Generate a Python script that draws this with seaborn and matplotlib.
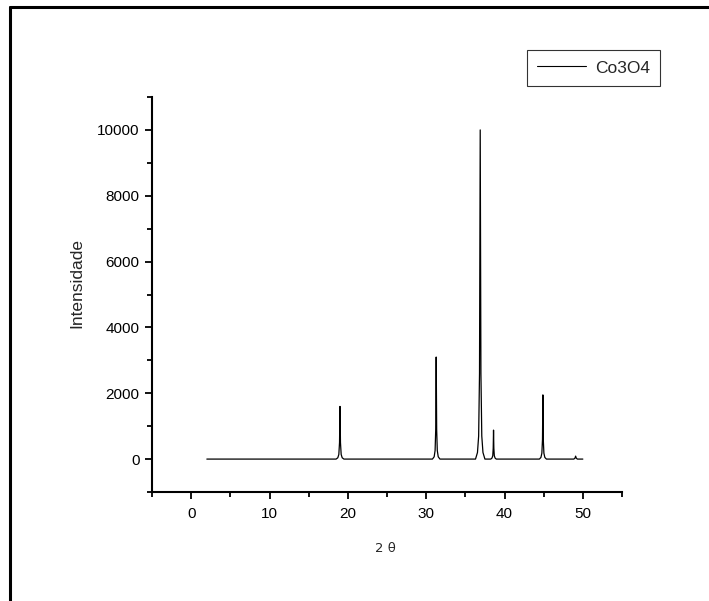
import matplotlib
matplotlib.use("Agg")
import matplotlib.pyplot as plt
import seaborn as sns
from matplotlib.lines import Line2D
from matplotlib.ticker import MultipleLocator

# XRD pattern of Co3O4 (baseline + peak outlines)
two_theta = [
    2.0,
    18.50, 18.72, 18.85, 18.94, 19.00, 19.06, 19.15, 19.28, 19.50,
    30.80, 31.02, 31.14, 31.22, 31.28, 31.34, 31.42, 31.54, 31.76,
    36.30, 36.55, 36.70, 36.81, 36.90, 36.99, 37.10, 37.25, 37.50,
    38.25, 38.40, 38.50, 38.56, 38.60, 38.64, 38.70, 38.80, 38.95,
    44.45, 44.65, 44.77, 44.85, 44.90, 44.95, 45.03, 45.15, 45.35,
    48.85, 49.00, 49.08, 49.16, 49.30,
    50.0,
]
intensity = [
    0,
    0, 40, 140, 500, 1600, 500, 140, 40, 0,
    0, 70, 260, 900, 3100, 900, 260, 70, 0,
    0, 200, 700, 2600, 10000, 2600, 700, 200, 0,
    0, 30, 100, 330, 880, 330, 100, 30, 0,
    0, 50, 180, 600, 1950, 600, 180, 50, 0,
    0, 30, 90, 30, 0,
    0,
]
series_name = "Co3O4"

sns.set_style("ticks")
plt.rcParams['font.family'] = ['Liberation Sans', 'DejaVu Sans']

fig = plt.figure(figsize=(7.09, 6.01), dpi=100)
ax = fig.add_axes([152 / 709, 1 - 492 / 601, 470 / 709, 395 / 601])

sns.lineplot(x=two_theta, y=intensity, color='black', linewidth=0.9,
             label=series_name, ax=ax)

ax.set_xlim(-5, 55)
ax.set_ylim(-1000, 11000)
ax.xaxis.set_major_locator(MultipleLocator(10))
ax.xaxis.set_minor_locator(MultipleLocator(5))
ax.yaxis.set_major_locator(MultipleLocator(2000))
ax.yaxis.set_minor_locator(MultipleLocator(1000))
ax.tick_params(which='both', direction='out', width=1.3, colors='black',
               labelsize=11)
ax.tick_params(which='major', length=5, pad=6)
ax.tick_params(axis='y', which='major', pad=4)
ax.tick_params(which='minor', length=3.5)

sns.despine(ax=ax)
for side in ['left', 'bottom']:
    ax.spines[side].set_linewidth(1.5)
    ax.spines[side].set_color('black')

ax.set_ylabel('Intensidade', fontsize=12.5, labelpad=8)
ax.yaxis.set_label_coords(77 / 709, 1 - 283 / 601, transform=fig.transFigure)
ax.set_xlabel('2 \u03b8', fontsize=9.5, family='DejaVu Sans')
ax.xaxis.set_label_coords(385 / 709, 1 - 549 / 601, transform=fig.transFigure)
ax.xaxis.label.set_va('center')
ax.yaxis.label.set_va('center')

leg = ax.legend(loc='upper left', bbox_to_anchor=(527 / 709, 1 - 50 / 601),
                bbox_transform=fig.transFigure, borderaxespad=0,
                fontsize=12.5, frameon=True, fancybox=False, shadow=False,
                handlelength=2.8, handletextpad=0.5, borderpad=0.6)
leg.get_frame().set_edgecolor('black')
leg.get_frame().set_linewidth(0.8)
for h in leg.get_lines():
    h.set_linewidth(0.8)

# page frame (left and top edges visible)
fig.add_artist(Line2D([10 / 709, 10 / 709], [0, 1 - 6.5 / 601], color='black',
                      linewidth=2.2, transform=fig.transFigure))
fig.add_artist(Line2D([10 / 709, 1], [1 - 6.5 / 601, 1 - 6.5 / 601], color='black',
                      linewidth=2.2, transform=fig.transFigure))

fig.savefig('out.png', dpi=100)
